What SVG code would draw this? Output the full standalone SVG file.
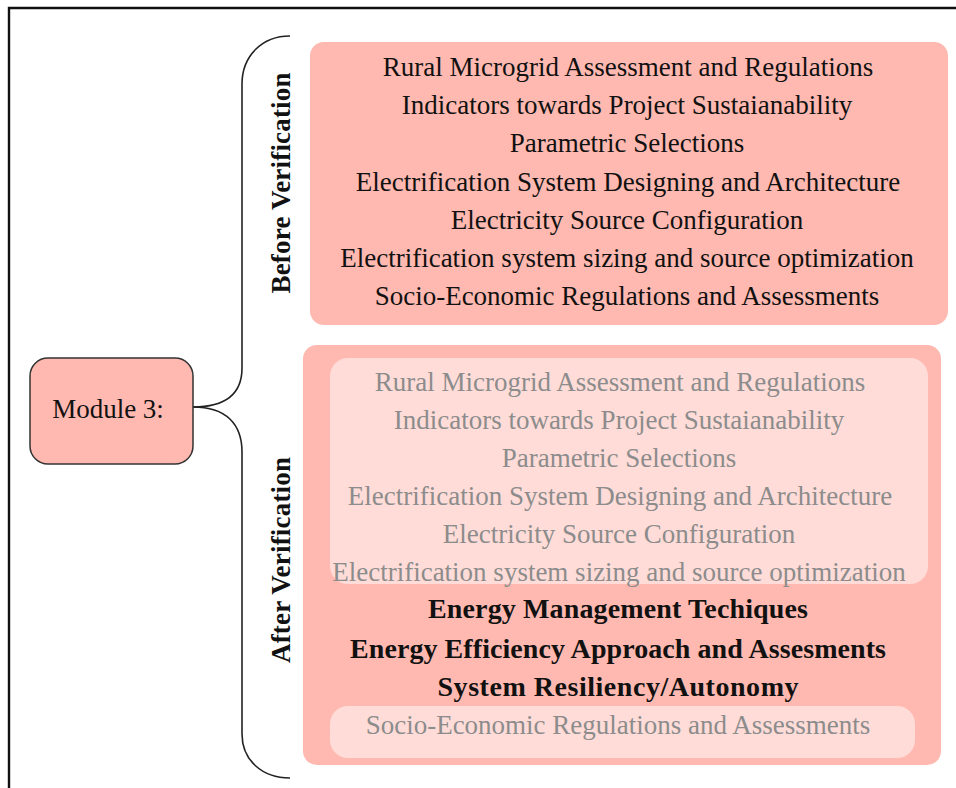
<svg xmlns="http://www.w3.org/2000/svg" width="956" height="788" viewBox="0 0 956 788">
<style>
text{font-family:"Liberation Serif","Times New Roman",serif;font-size:27px;text-anchor:middle}
.dark{fill:#111}
.gray{fill:#8c8c8c}
.bold{font-weight:bold;fill:#111}
.big{font-size:28px}
.box{fill:#FFB9B0}
.inner{fill:#FFDCD8}
.conn{fill:none;stroke:#222;stroke-width:1.6}
</style>
<rect width="956" height="788" fill="#fff"/>
<path d="M9,788 L9,8 L956,8" fill="none" stroke="#111" stroke-width="2.4"/>
<g id="connectors">
<path class="conn" d="M193,407 C226,407 242,394 242,368 L242,84 C242,56 262,36 290,36"/>
<path class="conn" d="M193,407 C226,407 242,424 242,452 L242,734 C242,760 262,778 290,778"/>
</g>
<g id="module3">
<rect x="30" y="358" width="163" height="106" rx="18" fill="#FFB9B0" stroke="#333" stroke-width="1.5"/>
<text class="dark" x="108" y="418">Module 3:</text>
</g>
<g id="before-label">
<text class="bold" transform="translate(290,183) rotate(-90)" textLength="221">Before Verification</text>
</g>
<g id="after-label">
<text class="bold" transform="translate(290,560) rotate(-90)" textLength="206">After Verification</text>
</g>
<g id="before">
<rect class="box" x="310" y="42" width="638" height="283" rx="14"/>
<text class="dark" x="628" y="76">Rural Microgrid Assessment and Regulations</text>
<text class="dark" x="627" y="114">Indicators towards Project Sustaianability</text>
<text class="dark" x="627" y="152">Parametric Selections</text>
<text class="dark" x="628" y="191">Electrification System Designing and Architecture</text>
<text class="dark" x="627" y="229">Electricity Source Configuration</text>
<text class="dark" x="627" y="267">Electrification system sizing and source optimization</text>
<text class="dark" x="627" y="305">Socio-Economic Regulations and Assessments</text>
</g>
<g id="after">
<rect class="box" x="303" y="345" width="638" height="420" rx="14"/>
<rect class="inner" x="330" y="358" width="598" height="226" rx="18"/>
<text class="gray" x="620" y="391">Rural Microgrid Assessment and Regulations</text>
<text class="gray" x="619" y="429">Indicators towards Project Sustaianability</text>
<text class="gray" x="619" y="467">Parametric Selections</text>
<text class="gray" x="620" y="505">Electrification System Designing and Architecture</text>
<text class="gray" x="619" y="543">Electricity Source Configuration</text>
<text class="gray" x="619" y="581">Electrification system sizing and source optimization</text>
<text class="bold big" x="618" y="618" textLength="380">Energy Management Techiques</text>
<text class="bold big" x="618" y="658" textLength="536">Energy Efficiency Approach and Assesments</text>
<text class="bold big" x="618" y="696" textLength="361">System Resiliency/Autonomy</text>
<rect class="inner" x="330" y="706" width="585" height="52" rx="18"/>
<text class="gray" x="618" y="734">Socio-Economic Regulations and Assessments</text>
</g>
</svg>
